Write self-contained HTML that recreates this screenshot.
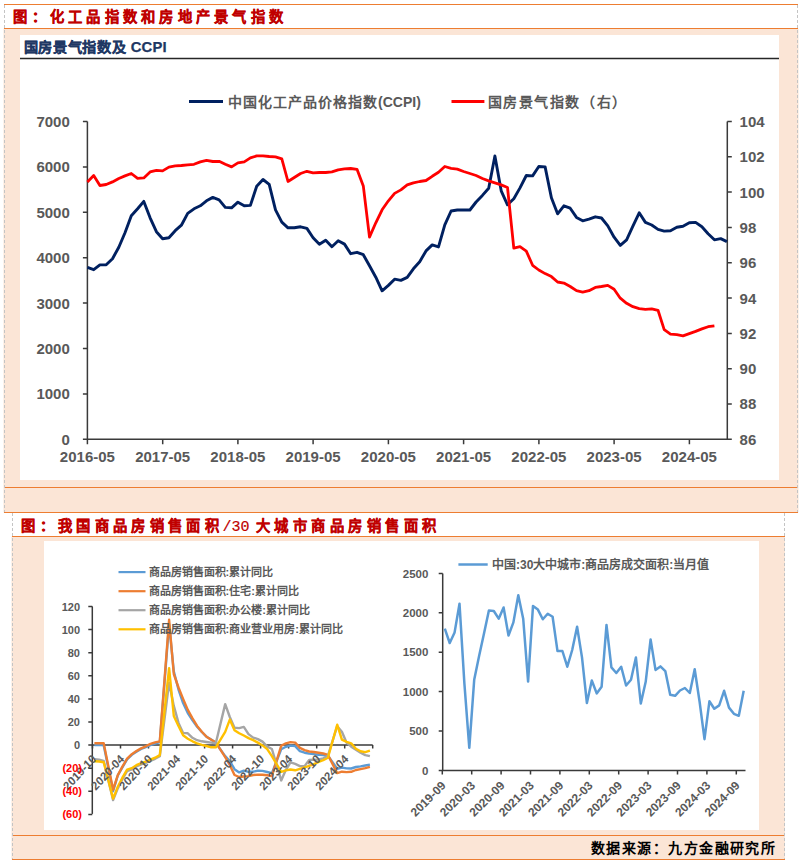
<!DOCTYPE html>
<html lang="zh-CN"><head><meta charset="utf-8">
<style>
html,body{margin:0;padding:0;background:#fff;}
body{width:802px;height:863px;overflow:hidden;position:relative;}
svg{position:absolute;left:0;top:0;}
text{font-family:"Liberation Sans",sans-serif;}
.cj{font-family:"Liberation Serif",serif;}
.mono{font-family:"Liberation Mono",monospace;}
</style></head><body>
<svg width="802" height="863" viewBox="0 0 802 863">

<rect x="3.5" y="28.5" width="295" height="0" fill="none"/>
<rect x="3.5" y="28.5" width="795" height="484" fill="#FBE5D6"/>
<rect x="20" y="35" width="759" height="445" fill="#fff"/>
<line x1="4" y1="4.5" x2="798" y2="4.5" stroke="#ED7D31" stroke-width="1.1"/>
<line x1="4" y1="28.5" x2="798" y2="28.5" stroke="#ED7D31" stroke-width="1.1"/>
<line x1="4" y1="487.5" x2="798" y2="487.5" stroke="#ED7D31" stroke-width="1.1"/>
<line x1="4" y1="512.5" x2="798" y2="512.5" stroke="#ED7D31" stroke-width="1.1"/>
<line x1="4.5" y1="5" x2="4.5" y2="512" stroke="#C4C4C4" stroke-width="1" stroke-dasharray="3,2"/>
<line x1="797.5" y1="5" x2="797.5" y2="512" stroke="#C4C4C4" stroke-width="1" stroke-dasharray="3,2"/>
<text x="13.3" y="21.5" class="cj" font-size="14.3" font-weight="bold" fill="#C00000" stroke="#C00000" stroke-width="0.3" letter-spacing="4.25">图：化工品指数和房地产景气指数</text>
<rect x="11.5" y="536.5" width="773.5" height="323" fill="#FBE5D6"/>
<rect x="44" y="541" width="715" height="289" fill="#fff"/>
<line x1="12" y1="536.5" x2="785" y2="536.5" stroke="#ED7D31" stroke-width="1.1"/>
<line x1="12" y1="835.5" x2="785" y2="835.5" stroke="#ED7D31" stroke-width="1.1"/>
<line x1="12" y1="859.5" x2="785" y2="859.5" stroke="#ED7D31" stroke-width="1.1"/>
<line x1="12.5" y1="513" x2="12.5" y2="859" stroke="#C4C4C4" stroke-width="1" stroke-dasharray="3,2"/>
<line x1="784.5" y1="513" x2="784.5" y2="859" stroke="#C4C4C4" stroke-width="1" stroke-dasharray="3,2"/>
<text x="21.3" y="530.7" class="cj" font-size="14.3" font-weight="bold" fill="#C00000" stroke="#C00000" stroke-width="0.3" letter-spacing="4.35">图：我国商品房销售面积</text><text x="222.4" y="530.5" class="mono" font-size="15" fill="#C00000" stroke="#C00000" stroke-width="0.2">/30</text><text x="255.5" y="530.7" class="cj" font-size="14.3" font-weight="bold" fill="#C00000" stroke="#C00000" stroke-width="0.3" letter-spacing="4.5">大城市商品房销售面积</text>
<text x="591" y="853" class="cj" font-size="14" font-weight="bold" fill="#000" letter-spacing="1.45">数据来源：九方金融研究所</text>
<text x="23.5" y="52.3" class="cj" font-size="14.2" font-weight="bold" fill="#1F3864" stroke="#1F3864" stroke-width="0.25" letter-spacing="0.7">国房景气指数及 <tspan font-family="Liberation Sans" font-size="14.8" letter-spacing="0.2">CCPI</tspan></text>
<line x1="20" y1="58.5" x2="779" y2="58.5" stroke="#262626" stroke-width="1.5"/>
<path d="M87.4,121.5 V439.3 H727.3 V121.5" fill="none" stroke="#3A3A3A" stroke-width="1.5"/>
<text x="69.8" y="444.7" font-size="15" font-weight="bold" fill="#595959" text-anchor="end">0</text>
<text x="69.8" y="399.3" font-size="15" font-weight="bold" fill="#595959" text-anchor="end">1000</text>
<text x="69.8" y="353.9" font-size="15" font-weight="bold" fill="#595959" text-anchor="end">2000</text>
<text x="69.8" y="308.5" font-size="15" font-weight="bold" fill="#595959" text-anchor="end">3000</text>
<text x="69.8" y="263.1" font-size="15" font-weight="bold" fill="#595959" text-anchor="end">4000</text>
<text x="69.8" y="217.7" font-size="15" font-weight="bold" fill="#595959" text-anchor="end">5000</text>
<text x="69.8" y="172.3" font-size="15" font-weight="bold" fill="#595959" text-anchor="end">6000</text>
<text x="69.8" y="126.9" font-size="15" font-weight="bold" fill="#595959" text-anchor="end">7000</text>
<text x="739.6" y="444.7" font-size="15" font-weight="bold" fill="#595959">86</text>
<text x="739.6" y="409.4" font-size="15" font-weight="bold" fill="#595959">88</text>
<text x="739.6" y="374.1" font-size="15" font-weight="bold" fill="#595959">90</text>
<text x="739.6" y="338.8" font-size="15" font-weight="bold" fill="#595959">92</text>
<text x="739.6" y="303.5" font-size="15" font-weight="bold" fill="#595959">94</text>
<text x="739.6" y="268.1" font-size="15" font-weight="bold" fill="#595959">96</text>
<text x="739.6" y="232.8" font-size="15" font-weight="bold" fill="#595959">98</text>
<text x="739.6" y="197.5" font-size="15" font-weight="bold" fill="#595959">100</text>
<text x="739.6" y="162.2" font-size="15" font-weight="bold" fill="#595959">102</text>
<text x="739.6" y="126.9" font-size="15" font-weight="bold" fill="#595959">104</text>
<text x="87.4" y="462.3" font-size="15" font-weight="bold" fill="#595959" text-anchor="middle">2016-05</text>
<text x="162.7" y="462.3" font-size="15" font-weight="bold" fill="#595959" text-anchor="middle">2017-05</text>
<text x="237.9" y="462.3" font-size="15" font-weight="bold" fill="#595959" text-anchor="middle">2018-05</text>
<text x="313.1" y="462.3" font-size="15" font-weight="bold" fill="#595959" text-anchor="middle">2019-05</text>
<text x="388.4" y="462.3" font-size="15" font-weight="bold" fill="#595959" text-anchor="middle">2020-05</text>
<text x="463.6" y="462.3" font-size="15" font-weight="bold" fill="#595959" text-anchor="middle">2021-05</text>
<text x="538.9" y="462.3" font-size="15" font-weight="bold" fill="#595959" text-anchor="middle">2022-05</text>
<text x="614.1" y="462.3" font-size="15" font-weight="bold" fill="#595959" text-anchor="middle">2023-05</text>
<text x="689.4" y="462.3" font-size="15" font-weight="bold" fill="#595959" text-anchor="middle">2024-05</text>
<path d="M82.9,439.3 H87.4 M82.9,393.9 H87.4 M82.9,348.5 H87.4 M82.9,303.1 H87.4 M82.9,257.7 H87.4 M82.9,212.3 H87.4 M82.9,166.9 H87.4 M82.9,121.5 H87.4 M727.3,439.3 H731.8 M727.3,404.0 H731.8 M727.3,368.7 H731.8 M727.3,333.4 H731.8 M727.3,298.1 H731.8 M727.3,262.7 H731.8 M727.3,227.4 H731.8 M727.3,192.1 H731.8 M727.3,156.8 H731.8 M727.3,121.5 H731.8 M87.4,439.3 V444.3 M162.7,439.3 V444.3 M237.9,439.3 V444.3 M313.1,439.3 V444.3 M388.4,439.3 V444.3 M463.6,439.3 V444.3 M538.9,439.3 V444.3 M614.1,439.3 V444.3 M689.4,439.3 V444.3" stroke="#3A3A3A" stroke-width="1.5" fill="none"/>
<polyline points="87.4,267.3 93.7,269.7 99.9,264.9 106.2,264.7 112.5,258.7 118.8,247.3 125.0,232.7 131.3,215.8 137.6,208.8 143.8,201.4 150.1,217.8 156.4,231.7 162.6,238.7 168.9,237.7 175.2,230.7 181.4,225.2 187.7,213.4 194.0,208.8 200.3,205.8 206.5,200.8 212.8,197.4 219.1,199.8 225.3,207.4 231.6,207.8 237.9,202.2 244.2,205.8 250.4,205.4 256.7,186.3 263.0,179.5 269.2,184.3 275.5,209.8 281.8,222.2 288.0,227.8 294.3,227.8 300.6,226.8 306.9,228.4 313.1,237.7 319.4,244.3 325.7,240.3 331.9,246.7 338.2,240.7 344.5,244.1 350.7,253.7 357.0,252.3 363.3,254.7 369.5,265.7 375.8,277.2 382.1,290.8 388.4,285.4 394.6,279.2 400.9,280.4 407.2,277.4 413.4,268.8 419.7,261.8 426.0,250.9 432.2,244.9 438.5,246.9 444.8,224.9 451.1,211.0 457.3,210.0 463.6,210.0 469.9,210.0 476.1,202.0 482.4,195.4 488.7,188.3 494.9,155.9 501.2,190.8 507.5,204.8 513.8,198.8 520.0,187.9 526.3,175.5 532.6,175.9 538.8,166.5 545.1,166.9 551.4,197.8 557.6,213.8 563.9,205.8 570.2,208.2 576.5,217.4 582.7,220.8 589.0,219.2 595.3,216.8 601.5,218.0 607.8,225.9 614.1,237.2 620.3,245.4 626.6,239.8 632.9,226.2 639.2,212.8 645.4,222.4 651.7,225.0 658.0,229.4 664.2,231.1 670.5,230.7 676.8,227.3 683.0,226.2 689.3,222.7 695.6,222.4 701.9,226.7 708.1,233.7 714.4,239.8 720.7,238.6 726.9,241.6" fill="none" stroke="#002060" stroke-width="2.9" stroke-linejoin="round"/>
<polyline points="87.4,181.9 93.7,175.5 99.9,185.5 106.2,184.5 112.5,181.9 118.8,178.5 125.0,175.9 131.3,173.5 137.6,178.3 143.8,177.9 150.1,171.9 156.4,170.3 162.6,170.9 168.9,167.1 175.2,165.9 181.4,165.5 187.7,164.9 194.0,164.3 200.3,161.9 206.5,160.3 212.8,161.5 219.1,161.3 225.3,164.3 231.6,166.9 237.9,162.9 244.2,161.9 250.4,157.9 256.7,155.9 263.0,155.9 269.2,156.5 275.5,156.9 281.8,158.9 288.0,181.5 294.3,177.5 300.6,173.5 306.9,171.3 313.1,172.9 319.4,172.5 325.7,172.5 331.9,171.9 338.2,169.9 344.5,168.9 350.7,168.5 357.0,169.3 363.3,185.9 369.5,237.1 375.8,222.8 382.1,209.8 388.4,200.8 394.6,193.4 400.9,189.9 407.2,184.9 413.4,182.9 419.7,181.5 426.0,180.5 432.2,176.3 438.5,172.3 444.8,166.5 451.1,168.3 457.3,169.1 463.6,171.5 469.9,173.5 476.1,175.5 482.4,178.5 488.7,180.9 494.9,182.9 501.2,184.9 507.5,187.5 513.8,248.1 520.0,246.7 526.3,251.1 532.6,265.3 538.8,270.0 545.1,273.6 551.4,276.6 557.6,282.0 563.9,283.1 570.2,286.5 576.5,290.7 582.7,292.1 589.0,290.7 595.3,287.4 601.5,286.5 607.8,285.4 614.1,289.2 620.3,298.2 626.6,303.3 632.9,306.7 639.2,308.7 645.4,309.4 651.7,308.9 658.0,310.3 664.2,329.6 670.5,334.1 676.8,334.7 683.0,335.9 689.3,333.6 695.6,331.4 701.9,328.9 708.1,326.7 714.4,325.8" fill="none" stroke="#FF0000" stroke-width="2.8" stroke-linejoin="round"/>
<line x1="189" y1="101.5" x2="223" y2="101.5" stroke="#002060" stroke-width="3"/>
<text x="227.6" y="106.5" class="cj" font-size="14" font-weight="bold" fill="#595959" letter-spacing="1.05">中国化工产品价格指数<tspan font-family="Liberation Sans" letter-spacing="0">(CCPI)</tspan></text>
<line x1="451.5" y1="101.5" x2="484.4" y2="101.5" stroke="#FF0000" stroke-width="3"/>
<text x="487.5" y="106.5" class="cj" font-size="14" font-weight="bold" fill="#595959" letter-spacing="1.6">国房景气指数（右）</text>
<line x1="92.3" y1="606.4" x2="92.3" y2="813.9" stroke="#3A3A3A" stroke-width="1.5"/>
<path d="M88.3,606.5 H92.3 M88.3,629.6 H92.3 M88.3,652.7 H92.3 M88.3,675.8 H92.3 M88.3,698.9 H92.3 M88.3,722.0 H92.3 M88.3,745.1 H92.3 M88.3,768.2 H92.3 M88.3,791.3 H92.3 M88.3,814.4 H92.3 M92.5,745.1 V748.6 M120.5,745.1 V748.6 M148.5,745.1 V748.6 M176.6,745.1 V748.6 M204.6,745.1 V748.6 M232.6,745.1 V748.6 M260.6,745.1 V748.6 M288.6,745.1 V748.6 M316.7,745.1 V748.6 M344.7,745.1 V748.6 M372.7,745.1 V748.6" stroke="#3A3A3A" stroke-width="1.5" fill="none"/>
<line x1="92.3" y1="745.1" x2="372.7" y2="745.1" stroke="#3A3A3A" stroke-width="1.5"/>
<polyline points="94.4,745.0 99.1,744.9 103.7,745.2 113.1,791.2 117.8,775.5 122.4,767.4 127.1,759.3 131.8,754.8 136.4,751.8 141.1,748.9 145.8,747.2 150.4,745.1 155.1,743.6 159.8,742.1 169.1,623.9 173.8,671.4 178.5,689.5 183.1,703.1 187.8,713.1 192.5,720.3 197.1,726.7 201.8,732.0 206.5,736.7 211.2,739.6 215.8,742.9 225.2,756.2 229.8,761.0 234.5,769.2 239.2,772.4 243.8,770.7 248.5,771.8 253.2,771.7 257.9,770.7 262.5,770.9 267.2,772.0 271.9,773.2 281.2,749.3 285.9,746.8 290.5,745.6 295.2,746.1 299.9,751.2 304.6,752.7 309.2,753.6 313.9,754.1 318.6,754.7 323.2,755.0 327.9,755.6 337.2,768.8 341.9,767.6 346.6,768.4 351.2,768.5 355.9,767.0 360.6,766.4 365.3,765.5 369.9,764.6" fill="none" stroke="#5B9BD5" stroke-width="2.4" stroke-linejoin="round"/>
<polyline points="94.4,743.3 99.1,743.3 103.7,743.3 113.1,789.7 117.8,775.1 122.4,766.7 127.1,758.7 131.8,754.2 136.4,751.1 141.1,748.3 145.8,746.3 150.4,743.9 155.1,742.4 159.8,741.3 169.1,619.8 173.8,674.0 178.5,687.5 183.1,698.9 187.8,709.9 192.5,718.4 197.1,725.9 201.8,731.8 206.5,736.8 211.2,739.8 215.8,742.4 225.2,757.1 229.8,765.0 234.5,775.0 239.2,777.0 243.8,776.5 248.5,776.1 253.2,775.0 257.9,774.6 262.5,774.8 267.2,775.2 271.9,776.1 281.2,745.8 285.9,743.3 290.5,742.1 295.2,742.6 299.9,747.9 304.6,750.1 309.2,751.5 313.9,752.0 318.6,752.7 323.2,753.5 327.9,754.9 337.2,773.1 341.9,771.7 346.6,772.1 351.2,771.8 355.9,770.0 360.6,769.1 365.3,768.1 369.9,766.8" fill="none" stroke="#ED7D31" stroke-width="2.4" stroke-linejoin="round"/>
<polyline points="94.4,759.2 99.1,759.7 103.7,760.8 113.1,800.1 117.8,788.4 122.4,779.2 127.1,771.1 131.8,769.4 136.4,766.4 141.1,764.4 145.8,762.9 150.4,760.8 155.1,758.8 159.8,756.3 169.1,682.7 173.8,705.9 178.5,722.9 183.1,732.9 187.8,733.3 192.5,737.8 197.1,740.2 201.8,741.3 206.5,742.0 211.2,742.6 215.8,743.3 225.2,704.1 229.8,717.0 234.5,727.7 239.2,728.1 243.8,726.9 248.5,734.1 253.2,737.6 257.9,739.1 262.5,741.6 267.2,746.6 271.9,749.0 281.2,780.4 285.9,769.8 290.5,762.3 295.2,763.9 299.9,766.1 304.6,766.1 309.2,759.9 313.9,759.7 318.6,759.5 323.2,758.3 327.9,755.8 337.2,726.2 341.9,731.7 346.6,742.7 351.2,746.7 355.9,749.7 360.6,752.7 365.3,755.1 369.9,756.2" fill="none" stroke="#A5A5A5" stroke-width="2.4" stroke-linejoin="round"/>
<polyline points="94.4,761.2 99.1,761.5 103.7,762.2 113.1,798.6 117.8,786.7 122.4,777.7 127.1,769.7 131.8,768.2 136.4,765.2 141.1,763.2 145.8,761.7 150.4,759.7 155.1,757.7 159.8,755.1 169.1,668.2 173.8,715.9 178.5,725.9 183.1,735.3 187.8,738.7 192.5,741.3 197.1,743.3 201.8,744.8 206.5,746.0 211.2,747.3 215.8,747.3 225.2,731.8 229.8,719.6 234.5,730.2 239.2,733.2 243.8,735.5 248.5,738.1 253.2,740.1 257.9,742.6 262.5,745.4 267.2,749.1 271.9,756.1 281.2,771.9 285.9,770.4 290.5,769.5 295.2,770.3 299.9,768.8 304.6,767.3 309.2,765.8 313.9,764.2 318.6,762.0 323.2,760.2 327.9,757.8 337.2,724.7 341.9,739.7 346.6,741.8 351.2,743.3 355.9,748.7 360.6,751.2 365.3,752.1 369.9,750.6" fill="none" stroke="#FFC000" stroke-width="2.4" stroke-linejoin="round"/>
<text x="0" y="0" font-size="11.2" font-weight="bold" fill="#595959" text-anchor="end" transform="translate(96.9 759.7) scale(1 1.08) rotate(-45)">2019-10</text>
<text x="0" y="0" font-size="11.2" font-weight="bold" fill="#595959" text-anchor="end" transform="translate(124.9 759.7) scale(1 1.08) rotate(-45)">2020-04</text>
<text x="0" y="0" font-size="11.2" font-weight="bold" fill="#595959" text-anchor="end" transform="translate(152.9 759.7) scale(1 1.08) rotate(-45)">2020-10</text>
<text x="0" y="0" font-size="11.2" font-weight="bold" fill="#595959" text-anchor="end" transform="translate(181.0 759.7) scale(1 1.08) rotate(-45)">2021-04</text>
<text x="0" y="0" font-size="11.2" font-weight="bold" fill="#595959" text-anchor="end" transform="translate(209.0 759.7) scale(1 1.08) rotate(-45)">2021-10</text>
<text x="0" y="0" font-size="11.2" font-weight="bold" fill="#595959" text-anchor="end" transform="translate(237.0 759.7) scale(1 1.08) rotate(-45)">2022-04</text>
<text x="0" y="0" font-size="11.2" font-weight="bold" fill="#595959" text-anchor="end" transform="translate(265.0 759.7) scale(1 1.08) rotate(-45)">2022-10</text>
<text x="0" y="0" font-size="11.2" font-weight="bold" fill="#595959" text-anchor="end" transform="translate(293.0 759.7) scale(1 1.08) rotate(-45)">2023-04</text>
<text x="0" y="0" font-size="11.2" font-weight="bold" fill="#595959" text-anchor="end" transform="translate(321.1 759.7) scale(1 1.08) rotate(-45)">2023-10</text>
<text x="0" y="0" font-size="11.2" font-weight="bold" fill="#595959" text-anchor="end" transform="translate(349.1 759.7) scale(1 1.08) rotate(-45)">2024-04</text>
<text x="80" y="610.5" font-size="11" font-weight="bold" fill="#595959" text-anchor="end">120</text>
<text x="80" y="633.6" font-size="11" font-weight="bold" fill="#595959" text-anchor="end">100</text>
<text x="80" y="656.7" font-size="11" font-weight="bold" fill="#595959" text-anchor="end">80</text>
<text x="80" y="679.8" font-size="11" font-weight="bold" fill="#595959" text-anchor="end">60</text>
<text x="80" y="702.9" font-size="11" font-weight="bold" fill="#595959" text-anchor="end">40</text>
<text x="80" y="726.0" font-size="11" font-weight="bold" fill="#595959" text-anchor="end">20</text>
<text x="80" y="749.1" font-size="11" font-weight="bold" fill="#595959" text-anchor="end">0</text>
<text x="82" y="772.2" font-size="11" font-weight="bold" fill="#FF0000" text-anchor="end">(20)</text>
<text x="82" y="795.3" font-size="11" font-weight="bold" fill="#FF0000" text-anchor="end">(40)</text>
<text x="82" y="818.4" font-size="11" font-weight="bold" fill="#FF0000" text-anchor="end">(60)</text>
<line x1="118.5" y1="572.1" x2="145.5" y2="572.1" stroke="#5B9BD5" stroke-width="2.2"/>
<text x="148.5" y="576.1" class="cj" font-size="11" font-weight="bold" fill="#595959">商品房销售面积<tspan font-family="Liberation Sans">:</tspan>累计同比</text>
<line x1="118.5" y1="591.2" x2="145.5" y2="591.2" stroke="#ED7D31" stroke-width="2.2"/>
<text x="148.5" y="595.2" class="cj" font-size="11" font-weight="bold" fill="#595959">商品房销售面积<tspan font-family="Liberation Sans">:</tspan>住宅<tspan font-family="Liberation Sans">:</tspan>累计同比</text>
<line x1="118.5" y1="610.2" x2="145.5" y2="610.2" stroke="#A5A5A5" stroke-width="2.2"/>
<text x="148.5" y="614.2" class="cj" font-size="11" font-weight="bold" fill="#595959">商品房销售面积<tspan font-family="Liberation Sans">:</tspan>办公楼<tspan font-family="Liberation Sans">:</tspan>累计同比</text>
<line x1="118.5" y1="629.3" x2="145.5" y2="629.3" stroke="#FFC000" stroke-width="2.2"/>
<text x="148.5" y="633.3" class="cj" font-size="11" font-weight="bold" fill="#595959">商品房销售面积<tspan font-family="Liberation Sans">:</tspan>商业营业用房<tspan font-family="Liberation Sans">:</tspan>累计同比</text>
<path d="M442.7,573.4 V770.4 H745.5" fill="none" stroke="#3A3A3A" stroke-width="1.5"/>
<text x="428.4" y="774.6" font-size="11.5" font-weight="bold" fill="#595959" text-anchor="end">0</text>
<text x="428.4" y="735.2" font-size="11.5" font-weight="bold" fill="#595959" text-anchor="end">500</text>
<text x="428.4" y="695.8" font-size="11.5" font-weight="bold" fill="#595959" text-anchor="end">1000</text>
<text x="428.4" y="656.4" font-size="11.5" font-weight="bold" fill="#595959" text-anchor="end">1500</text>
<text x="428.4" y="617.0" font-size="11.5" font-weight="bold" fill="#595959" text-anchor="end">2000</text>
<text x="428.4" y="577.6" font-size="11.5" font-weight="bold" fill="#595959" text-anchor="end">2500</text>
<path d="M438.7,770.4 H442.7 M438.7,731.0 H442.7 M438.7,691.6 H442.7 M438.7,652.2 H442.7 M438.7,612.8 H442.7 M438.7,573.4 H442.7 M442.3,770.4 V774.4 M471.7,770.4 V774.4 M501.1,770.4 V774.4 M530.5,770.4 V774.4 M559.9,770.4 V774.4 M589.3,770.4 V774.4 M618.7,770.4 V774.4 M648.1,770.4 V774.4 M677.5,770.4 V774.4 M706.9,770.4 V774.4 M736.3,770.4 V774.4" stroke="#3A3A3A" stroke-width="1.5" fill="none"/>
<polyline points="444.8,628.7 449.7,643.0 454.6,632.4 459.5,603.7 464.4,683.7 469.3,747.8 474.2,679.8 479.1,656.1 484.0,633.6 488.9,610.6 493.8,611.0 498.7,618.7 503.6,607.5 508.5,635.5 513.4,622.4 518.3,595.2 523.2,618.7 528.1,681.6 533.0,605.9 537.9,609.6 542.8,619.3 547.7,613.7 552.6,616.8 557.5,651.1 562.4,651.0 567.3,666.7 572.2,650.0 577.1,626.8 582.0,657.4 586.9,703.0 591.8,680.5 596.7,693.4 601.6,686.8 606.5,624.9 611.4,667.4 616.3,673.0 621.2,666.8 626.1,685.5 631.0,679.7 635.9,657.5 640.8,703.6 645.7,681.8 650.6,639.4 655.5,669.9 660.4,666.4 665.3,671.1 670.2,694.8 675.1,695.8 680.0,690.5 684.9,688.0 689.8,693.0 694.7,669.3 699.6,701.8 704.5,739.2 709.4,701.3 714.3,708.8 719.2,705.4 724.1,690.8 729.0,707.6 733.9,713.8 738.8,715.8 743.7,690.8" fill="none" stroke="#5B9BD5" stroke-width="2.5" stroke-linejoin="round"/>
<text x="446.6" y="786.2" font-size="12" font-weight="bold" fill="#595959" text-anchor="end" transform="rotate(-45 446.6 786.2)">2019-09</text>
<text x="476.0" y="786.2" font-size="12" font-weight="bold" fill="#595959" text-anchor="end" transform="rotate(-45 476.0 786.2)">2020-03</text>
<text x="505.4" y="786.2" font-size="12" font-weight="bold" fill="#595959" text-anchor="end" transform="rotate(-45 505.4 786.2)">2020-09</text>
<text x="534.8" y="786.2" font-size="12" font-weight="bold" fill="#595959" text-anchor="end" transform="rotate(-45 534.8 786.2)">2021-03</text>
<text x="564.2" y="786.2" font-size="12" font-weight="bold" fill="#595959" text-anchor="end" transform="rotate(-45 564.2 786.2)">2021-09</text>
<text x="593.6" y="786.2" font-size="12" font-weight="bold" fill="#595959" text-anchor="end" transform="rotate(-45 593.6 786.2)">2022-03</text>
<text x="623.0" y="786.2" font-size="12" font-weight="bold" fill="#595959" text-anchor="end" transform="rotate(-45 623.0 786.2)">2022-09</text>
<text x="652.4" y="786.2" font-size="12" font-weight="bold" fill="#595959" text-anchor="end" transform="rotate(-45 652.4 786.2)">2023-03</text>
<text x="681.8" y="786.2" font-size="12" font-weight="bold" fill="#595959" text-anchor="end" transform="rotate(-45 681.8 786.2)">2023-09</text>
<text x="711.2" y="786.2" font-size="12" font-weight="bold" fill="#595959" text-anchor="end" transform="rotate(-45 711.2 786.2)">2024-03</text>
<text x="740.6" y="786.2" font-size="12" font-weight="bold" fill="#595959" text-anchor="end" transform="rotate(-45 740.6 786.2)">2024-09</text>
<line x1="458.4" y1="564.5" x2="487.7" y2="564.5" stroke="#5B9BD5" stroke-width="2.5"/>
<text x="492" y="569" class="cj" font-size="12" font-weight="bold" fill="#595959">中国<tspan font-family="Liberation Sans">:30</tspan>大中城市<tspan font-family="Liberation Sans">:</tspan>商品房成交面积<tspan font-family="Liberation Sans">:</tspan>当月值</text>
</svg></body></html>
